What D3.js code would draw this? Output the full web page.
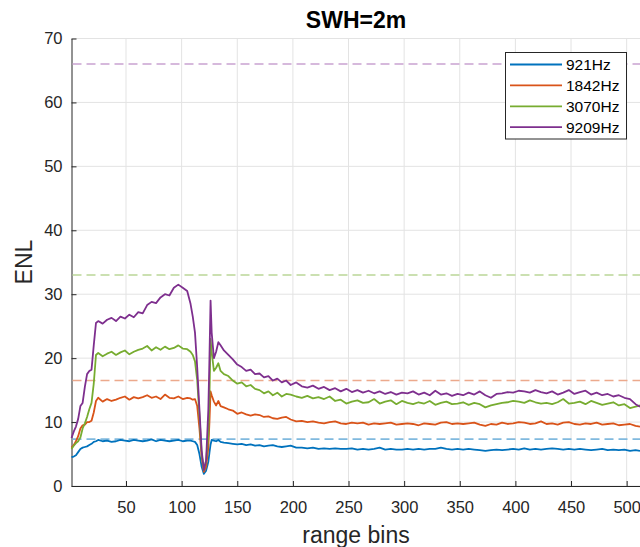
<!DOCTYPE html>
<html>
<head>
<meta charset="utf-8">
<script src="https://cdn.jsdelivr.net/npm/d3@7"></script>
<style>
  body { margin: 0; background: #fff; }
  svg { display: block; font-family: "Liberation Sans", Arial, sans-serif; }
</style>
</head>
<body>
<svg id="chart" width="640" height="547"></svg>
<script>
// range bin positions shared by every series
var bins = [1,3,5,7,9,11,13,15,17,19,21,23,25,
  29,33,37,41,45,49,53,57,61,65,69,73,77,81,85,89,93,97,101,105,
  108,110,112,114,116,118,120,122,124,125,126,127,129,131,133,135,
  138,142,146,150,154,158,162,166,170,174,178,182,186,190,194,198,
  203,208,213,218,223,228,233,238,243,248,253,258,263,268,273,278,283,288,293,298,
  303,308,313,318,323,328,333,338,343,348,353,358,363,368,373,378,383,388,393,398,
  403,408,413,418,423,428,433,438,443,448,453,458,463,468,473,478,483,488,493,498,
  503,508,512];

var enl921 = [4.5,4.6,4.8,5.3,5.8,6.0,6.1,6.2,6.4,6.6,6.9,7.0,7.2,
  7.0,7.1,6.9,7.0,7.2,7.1,7.0,7.2,7.1,7.0,7.1,7.3,7.0,7.2,7.1,7.0,7.1,7.2,7.0,7.1,
  7.1,7.0,6.9,6.4,5.0,3.0,1.9,2.4,3.8,5.2,6.5,7.2,7.1,7.0,7.2,6.9,
  6.8,6.7,6.6,6.5,6.6,6.4,6.5,6.3,6.4,6.2,6.3,6.4,6.2,6.1,6.2,6.3,
  6.0,6.0,5.9,6.0,5.8,5.9,5.8,5.9,5.8,5.8,5.9,5.7,5.8,5.7,5.8,6.0,5.7,5.8,5.7,5.7,
  5.8,5.7,5.8,5.7,5.8,5.8,6.0,5.8,5.7,5.8,5.7,5.8,5.7,5.6,5.5,5.6,5.7,5.6,5.7,5.8,
  5.7,5.9,5.7,5.8,5.7,5.8,5.9,5.8,5.7,5.8,5.7,5.8,5.7,5.6,5.7,5.8,5.6,5.7,5.6,5.7,
  5.5,5.6,5.5];

var enl1842 = [6.0,6.4,7.0,7.8,9.0,9.5,9.6,10.0,10.0,10.2,11.5,13.3,13.8,
  13.2,13.6,13.3,13.5,13.8,14.0,13.5,13.9,13.7,13.9,14.2,13.8,14.0,13.6,14.3,13.8,13.7,14.0,13.6,13.8,
  13.7,13.5,13.6,12.5,9.0,4.5,2.2,3.0,6.0,10.0,14.8,14.2,13.2,12.6,13.3,12.5,
  12.3,12.0,11.8,11.3,11.5,11.2,11.0,11.2,11.1,10.8,10.9,10.6,10.5,10.7,10.8,10.4,
  10.1,10.2,10.0,10.1,9.9,9.8,10.0,10.1,9.8,9.7,9.9,9.8,9.9,9.6,9.8,9.7,9.8,9.9,9.6,9.7,
  9.8,9.7,9.5,9.8,9.7,9.6,9.9,10.0,9.7,9.8,9.7,9.8,9.9,9.6,9.4,9.7,9.6,9.9,9.7,9.8,
  10.0,9.9,9.7,9.8,10.1,9.7,9.8,9.6,9.9,10.0,9.7,9.6,9.8,9.7,9.9,9.6,9.7,9.8,9.5,9.6,
  9.7,9.4,9.3];

var enl3070 = [5.8,6.3,6.7,7.0,7.6,9.0,9.8,10.8,12.0,13.0,16.0,20.5,20.8,
  20.3,20.7,21.0,20.5,20.9,21.2,20.6,21.0,21.3,21.5,21.9,21.2,21.7,21.3,21.8,21.4,21.6,22.0,21.5,21.4,
  21.0,20.5,19.5,16.5,11.0,5.0,2.5,4.0,8.0,14.0,23.0,21.0,18.0,18.5,19.2,18.0,
  17.5,17.2,16.5,16.0,16.2,15.6,15.8,15.2,15.0,14.5,14.8,14.2,14.6,14.0,14.4,14.3,
  14.0,13.8,14.1,13.7,13.9,13.6,14.0,13.3,13.5,12.9,13.2,13.4,13.0,13.1,13.6,12.9,13.2,13.4,12.8,13.3,
  13.0,12.8,13.1,12.9,13.3,12.7,13.0,13.2,12.8,12.9,13.1,12.7,13.0,12.8,12.3,12.6,12.8,13.0,13.1,13.3,
  13.2,13.0,13.4,13.1,12.9,13.0,12.8,13.1,13.6,12.9,13.0,13.2,12.8,13.3,13.0,12.7,12.9,13.1,12.6,12.8,
  12.2,12.4,12.6];

var enl9209 = [7.5,8.5,9.3,10.5,12.5,13.0,15.5,17.5,18.0,18.2,22.0,25.5,25.8,
  25.4,26.0,26.3,25.8,26.5,26.2,26.8,26.4,27.2,27.0,28.3,28.8,28.6,29.5,30.0,29.8,31.0,31.5,31.0,30.5,
  28.5,26.5,24.0,18.5,12.0,5.5,2.5,4.0,12.0,20.0,29.0,24.0,20.0,21.0,22.5,22.0,21.2,
  20.5,19.8,19.0,18.6,18.0,18.2,17.5,17.6,17.0,17.2,16.5,16.8,16.2,16.5,15.8,16.2,
  15.6,15.4,15.7,15.2,15.5,15.0,15.3,14.8,15.2,14.7,15.0,14.6,14.9,14.5,14.8,14.4,14.7,14.3,14.6,14.5,
  14.8,14.3,14.6,14.2,14.9,14.3,14.5,14.1,14.4,14.2,14.6,14.3,14.8,14.2,13.8,14.4,14.5,14.7,14.6,14.9,
  14.8,14.6,15.0,14.7,14.5,14.8,14.3,14.6,15.0,14.4,14.7,14.9,14.3,14.6,14.2,14.4,14.0,14.2,13.8,13.6,
  12.8,12.4,12.8];

var seriesNames = ["921Hz", "1842Hz", "3070Hz", "9209Hz"];
var seriesValues = [enl921, enl1842, enl3070, enl9209];
var limits = [7.33, 16.5, 33, 66];   // dashed reference level per series
var xTicks = [50, 100, 150, 200, 250, 300, 350, 400, 450, 500];
var yTicks = [0, 10, 20, 30, 40, 50, 60, 70];

var colors = ["#0072bd", "#d95319", "#77ac30", "#7e2f8e"];
var lightColors = ["#80b9de", "#eca98c", "#bbd698", "#c9a3d1"];

// note: "top" is taken by window.top, so use other names
var plotLeft = 71.5, plotRight = 640, plotTop = 38.5, plotBottom = 486;
var svg = d3.select('#chart');

var x = d3.scaleLinear().domain([1, 512]).range([plotLeft, plotRight]);
var y = d3.scaleLinear().domain([0, 70]).range([plotBottom, plotTop]);

// grid
svg.append('g').selectAll('line').data(xTicks).join('line')
    .attr('x1', function(d) { return x(d); }).attr('x2', function(d) { return x(d); })
    .attr('y1', plotTop).attr('y2', plotBottom)
    .style('stroke', '#e3e3e3').style('stroke-width', 1);
svg.append('g').selectAll('line').data(yTicks).join('line')
    .attr('x1', plotLeft).attr('x2', plotRight)
    .attr('y1', function(d) { return y(d); }).attr('y2', function(d) { return y(d); })
    .style('stroke', '#e3e3e3').style('stroke-width', 1);

// axes, ticks pointing inward like matlab
var xAxis = svg.append('g').attr('transform', 'translate(0,' + plotBottom + ')')
    .call(d3.axisBottom(x).tickValues(xTicks).tickSizeInner(-5).tickSizeOuter(0).tickPadding(12));
var yAxis = svg.append('g').attr('transform', 'translate(' + plotLeft + ',0)')
    .call(d3.axisLeft(y).tickValues(yTicks).tickSizeInner(-5).tickSizeOuter(0).tickPadding(9));
[xAxis, yAxis].forEach(function(a) {
    a.select('.domain').style('stroke', '#262626').style('stroke-width', 1);
    a.selectAll('.tick line').style('stroke', '#262626');
    a.selectAll('.tick text').style('fill', '#262626')
        .style('font-family', '"Liberation Sans", Arial, sans-serif').style('font-size', '16.5px');
});
xAxis.selectAll('.tick text').attr('dy', '0.9em');

// dashed levels
svg.append('g').selectAll('line').data(limits).join('line')
    .attr('x1', plotLeft + 1).attr('x2', plotRight)
    .attr('y1', function(d) { return y(d); }).attr('y2', function(d) { return y(d); })
    .style('stroke', function(d, i) { return lightColors[i]; })
    .style('stroke-width', 1.6).style('stroke-dasharray', '9,5');

var line = d3.line()
    .x(function(d, i) { return x(bins[i]); })
    .y(function(d) { return y(d); });

svg.append('g').selectAll('path').data(seriesValues).join('path')
    .attr('d', line)
    .style('fill', 'none')
    .style('stroke', function(d, i) { return colors[i]; })
    .style('stroke-width', 1.8)
    .style('stroke-linejoin', 'round');

// labels
svg.append('text').attr('x', 356).attr('y', 28).attr('text-anchor', 'middle')
    .style('font-size', '23px').style('font-weight', 'bold').style('fill', '#000')
    .text('SWH=2m');
svg.append('text').attr('x', 356).attr('y', 543).attr('text-anchor', 'middle')
    .style('font-size', '23px').style('fill', '#262626')
    .text('range bins');
svg.append('text').attr('transform', 'translate(32,262) rotate(-90)').attr('text-anchor', 'middle')
    .style('font-size', '23px').style('fill', '#262626')
    .text('ENL');

// legend
var legend = svg.append('g');
legend.append('rect').attr('x', 505.5).attr('y', 52.5).attr('width', 121).attr('height', 86.5)
    .style('fill', '#fff').style('stroke', '#262626').style('stroke-width', 1);
var rows = legend.selectAll('g.row').data(seriesNames).join('g').attr('class', 'row')
    .attr('transform', function(d, i) { return 'translate(0,' + (64.5 + i * 20.9) + ')'; });
rows.append('line').attr('x1', 510).attr('x2', 562).attr('y1', 0).attr('y2', 0)
    .style('stroke', function(d, i) { return colors[i]; }).style('stroke-width', 1.8);
rows.append('text').attr('x', 566).attr('y', 0).attr('dy', '0.35em')
    .style('font-size', '15.5px').style('fill', '#000')
    .text(function(d) { return d; });
</script>
</body>
</html>
